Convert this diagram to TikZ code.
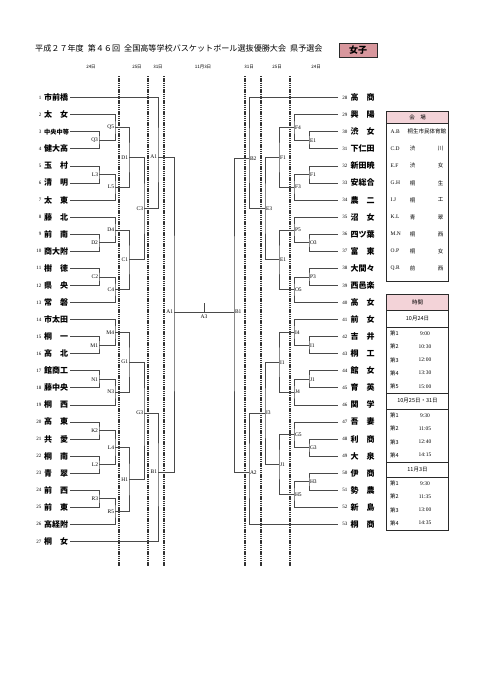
\documentclass[tikz,border=0pt]{standalone}
\usepackage{fontspec}
\setmainfont{Liberation Serif}
\newfontfamily\jp{Noto Sans CJK JP}
\definecolor{brc}{HTML}{4A4A4A}
\definecolor{dlc}{HTML}{333333}
\definecolor{tbc}{HTML}{2A2A2A}
\definecolor{rose}{HTML}{D8979D}
\definecolor{hdr}{HTML}{F3D3D8}
\begin{document}
\begin{tikzpicture}[x=1pt,y=-1pt,
  br/.style={draw=brc, line width=0.65pt},
  dl/.style={draw=dlc, line width=1.1pt, dash pattern=on 1.3pt off 0.9pt},
  num/.style={font=\fontsize{5}{5}\selectfont, inner sep=0pt},
  tname/.style={font=\jp\bfseries\fontsize{8}{8}\selectfont, inner sep=0pt},
  gl/.style={font=\fontsize{5.5}{5.5}\selectfont, inner sep=0.8pt},
  dt/.style={font=\jp\fontsize{4.5}{4.5}\selectfont, inner sep=0pt},
  tb/.style={draw=tbc, line width=0.9pt},
  cell/.style={font=\fontsize{5.5}{5.5}\selectfont, inner sep=0pt},
  jcell/.style={font=\jp\fontsize{5.5}{5.5}\selectfont, inner sep=0pt}]
\path[use as bounding box, fill=white] (0,0) rectangle (481,680);

% title
\node[anchor=west, inner sep=0pt, font=\jp\fontsize{8.1}{8.1}\selectfont] (title) at (35,48.3)
  {平成２７年度\hspace{4pt}第４６回\hspace{4pt}全国高等学校バスケットボール選抜優勝大会\hspace{4pt}県予選会};
\node[draw=tbc, line width=0.9pt, fill=rose, minimum width=38pt, minimum height=14.4pt, inner sep=0pt,
  font=\jp\bfseries\fontsize{9}{9}\selectfont] (joshi) at (358,50.5) {女子};

% dates
\foreach \x/\t [count=\k] in {91/24日,137/25日,158/31日,203/11月3日,249/31日,277/25日,316/24日}
  \node[dt] (date\k) at (\x,67) {\t};

% dashed lines
\foreach \x [count=\k] in {119,148,164,245,261,290}{
  \coordinate (dT\k) at (\x,76);
  \coordinate (dB\k) at (\x,566);
  \draw[dl] (dT\k) -- (dB\k);
}

% left teams
\foreach \i/\nm in {1/市前橋,2/太　女,3/{\fontsize{6.2}{6.2}\selectfont 中央中等},4/健大高,5/玉　村,6/清　明,7/太　東,8/藤　北,9/前　南,10/商大附,11/樹　徳,12/県　央,13/常　磐,14/市太田,15/桐　一,16/高　北,17/館商工,18/藤中央,19/桐　西,20/高　東,21/共　愛,22/桐　南,23/青　翠,24/前　西,25/前　東,26/高経附,27/桐　女}{
  \pgfmathsetmacro\yy{97.6+17.07*(\i-1)}
  \node[num,anchor=east] (nL\i) at (41.5,\yy) {\i};
  \node[tname,anchor=west] (tL\i) at (44,\yy) {\nm};
  \coordinate (eL\i) at (70,\yy);
}
% right teams
\foreach \j/\nm in {28/高　商,29/興　陽,30/渋　女,31/下仁田,32/新田暁,33/安総合,34/農　二,35/沼　女,36/四ツ葉,37/富　東,38/大間々,39/西邑楽,40/高　女,41/前　女,42/吉　井,43/桐　工,44/館　女,45/育　英,46/関　学,47/吾　妻,48/利　商,49/大　泉,50/伊　商,51/勢　農,52/新　島,53/桐　商}{
  \pgfmathsetmacro\yy{97.6+17.07*(\j-28)}
  \node[num,anchor=east] (nR\j) at (347.5,\yy) {\j};
  \node[tname,anchor=west] (tR\j) at (350.5,\yy) {\nm};
  \coordinate (eR\j) at (338,\yy);
}

% left game points
\foreach \n/\x/\y in {lQ3/99/140.3, lQ5/115/127.5, lL3/99/174.4, lL5/115/187.2, lD1/129/157.4,
  lD2/99/242.7, lD4/115/229.9, lC2/99/276.9, lC4/115/289.6, lC1/129/259.8, lC3/144/208.6,
  lA1/158/157, lM1/99/345.2, lM4/115/332.3, lN1/99/379.3, lN3/115/392.1, lG1/129/362.2,
  lK2/99/430.5, lL2/99/464.6, lL4/115/447.5, lR3/99/498.8, lR5/115/511.6, lH1/129/479.5,
  lG3/144/413, lB1/158/472, lF/174/312}
  \coordinate (\n) at (\x,\y);
% right game points
\foreach \n/\x/\y in {rE1s/309/140.3, rF4/294/127.5, rF1s/309/174.4, rF3/294/187.2, rF1/279/157.4,
  rO3/309/242.7, rP5/294/229.9, rP3/309/276.9, rO5/294/289.6, rE1/279/259.8, rE3/265/208.6,
  rB2/249/158.3, rI1s/309/345.2, rI4/294/332.3, rJ1s/309/379.3, rJ4/294/392.1, rI1/279/362.2,
  rG3s/309/447.5, rG5/294/434.7, rH3/309/481.6, rH5/294/494.5, rJ1/279/464.6, rI3/265/413,
  rA2/249/472.7, rF/234/312}
  \coordinate (\n) at (\x,\y);

% left brackets
\foreach \a/\g/\b in {eL3/lQ3/eL4, eL2/lQ5/lQ3, eL5/lL3/eL6, lL3/lL5/eL7, lQ5/lD1/lL5,
  eL9/lD2/eL10, eL8/lD4/lD2, eL11/lC2/eL12, lC2/lC4/eL13, lD4/lC1/lC4, lD1/lC3/lC1, eL1/lA1/lC3,
  eL15/lM1/eL16, eL14/lM4/lM1, eL17/lN1/eL18, lN1/lN3/eL19, lM4/lG1/lN3,
  eL20/lK2/eL21, eL22/lL2/eL23, lK2/lL4/lL2, eL24/lR3/eL25, lR3/lR5/eL26, lL4/lH1/lR5,
  lG1/lG3/lH1, lG3/lB1/eL27, lA1/lF/lB1}
  \draw[br] (\a) -| (\g) |- (\b);
% right brackets
\foreach \a/\g/\b in {eR30/rE1s/eR31, eR29/rF4/rE1s, eR32/rF1s/eR33, rF1s/rF3/eR34, rF4/rF1/rF3,
  eR36/rO3/eR37, eR35/rP5/rO3, eR38/rP3/eR39, rP3/rO5/eR40, rP5/rE1/rO5, rF1/rE3/rE1, eR28/rB2/rE3,
  eR42/rI1s/eR43, eR41/rI4/rI1s, eR44/rJ1s/eR45, rJ1s/rJ4/eR46, rI4/rI1/rJ4,
  eR48/rG3s/eR49, eR47/rG5/rG3s, eR50/rH3/eR51, rH3/rH5/eR52, rG5/rJ1/rH5,
  rI1/rI3/rJ1, rI3/rA2/eR53, rB2/rF/rA2}
  \draw[br] (\a) -| (\g) |- (\b);
% final
\draw[br] (lF) -- (rF);
\coordinate (a3t) at (204,303);
\coordinate (a3b) at (204,312);
\draw[br] (a3t) -- (a3b);
\node[gl, anchor=north] (labA3) at (204,313.5) {A3};

% labels
\foreach \c/\t in {lQ3/Q3, lQ5/Q5, lL3/L3, lL5/L5, lD1/D1, lD2/D2, lD4/D4, lC2/C2, lC4/C4, lC1/C1,
  lC3/C3, lA1/A1, lM1/M1, lM4/M4, lN1/N1, lN3/N3, lG1/G1, lK2/K2, lL2/L2, lL4/L4, lR3/R3, lR5/R5,
  lH1/H1, lG3/G3, lB1/B1, lF/A1}
  \node[gl, anchor=east] (lab-\c) at (\c) {\t};
\foreach \c/\t in {rE1s/E1, rF4/F4, rF1s/F1, rF3/F3, rF1/F1, rO3/O3, rP5/P5, rP3/P3, rO5/O5, rE1/E1,
  rE3/E3, rB2/B2, rI1s/I1, rI4/I4, rJ1s/J1, rJ4/J4, rI1/I1, rG3s/G3, rG5/G5, rH3/H3, rH5/H5,
  rJ1/J1, rI3/I3, rA2/A2, rF/B1}
  \node[gl, anchor=west] (lab-\c) at (\c) {\t};

% venue table
\draw[tb, fill=hdr] (386.5,111) rectangle (448.5,123.5);
\node[jcell] (venueh) at (417.5,117.3) {会　場};
\draw[tb] (386.5,123.5) rectangle (448.5,281);
\node[cell, anchor=west] (vc0) at (390.5,131.7) {A.B};
\node[jcell, anchor=west] (vn0) at (407.5,131.7) {桐生市民体育館};
\foreach \c/\a/\b [count=\m] in {C.D/渋/川, E.F/渋/女, G.H/桐/生, I.J/桐/工, K.L/青/翠, M.N/桐/西, O.P/桐/女, Q.R/前/西}{
  \pgfmathsetmacro\yy{131.7+17.07*\m}
  \node[cell, anchor=west] (vc\m) at (390.5,\yy) {\c};
  \node[jcell] (va\m) at (412.5,\yy) {\a};
  \node[jcell] (vb\m) at (440.5,\yy) {\b};
}

% time table
\draw[tb, fill=hdr] (386.5,294) rectangle (448.5,310.5);
\node[jcell] (timeh) at (417.5,302.3) {時間};
\draw[tb] (386.5,310.5) rectangle (448.5,327);
\node[jcell] (d1) at (417.5,318.7) {10月24日};
\draw[tb] (386.5,327) rectangle (448.5,393);
\draw[tb] (386.5,393) rectangle (448.5,409);
\node[jcell] (d2) at (417.5,401) {10月25日・31日};
\draw[tb] (386.5,409) rectangle (448.5,462);
\draw[tb] (386.5,462) rectangle (448.5,477);
\node[jcell] (d3) at (417.5,469.5) {11月3日};
\draw[tb] (386.5,477) rectangle (448.5,530);
\foreach \k/\t [count=\m from 0] in {1/9:00, 2/10:30, 3/12:00, 4/13:30, 5/15:00}{
  \pgfmathsetmacro\yy{333.6+13.2*\m}
  \node[jcell, anchor=west] (ra\m) at (390,\yy) {第\k};
  \node[cell] (rt\m) at (425,\yy) {\t};
}
\foreach \k/\t [count=\m from 0] in {1/9:30, 2/11:05, 3/12:40, 4/14:15}{
  \pgfmathsetmacro\yy{415.6+13.2*\m}
  \node[jcell, anchor=west] (sa\m) at (390,\yy) {第\k};
  \node[cell] (st\m) at (425,\yy) {\t};
}
\foreach \k/\t [count=\m from 0] in {1/9:30, 2/11:35, 3/13:00, 4/14:35}{
  \pgfmathsetmacro\yy{483.6+13.2*\m}
  \node[jcell, anchor=west] (ua\m) at (390,\yy) {第\k};
  \node[cell] (ut\m) at (425,\yy) {\t};
}
\end{tikzpicture}
\end{document}
